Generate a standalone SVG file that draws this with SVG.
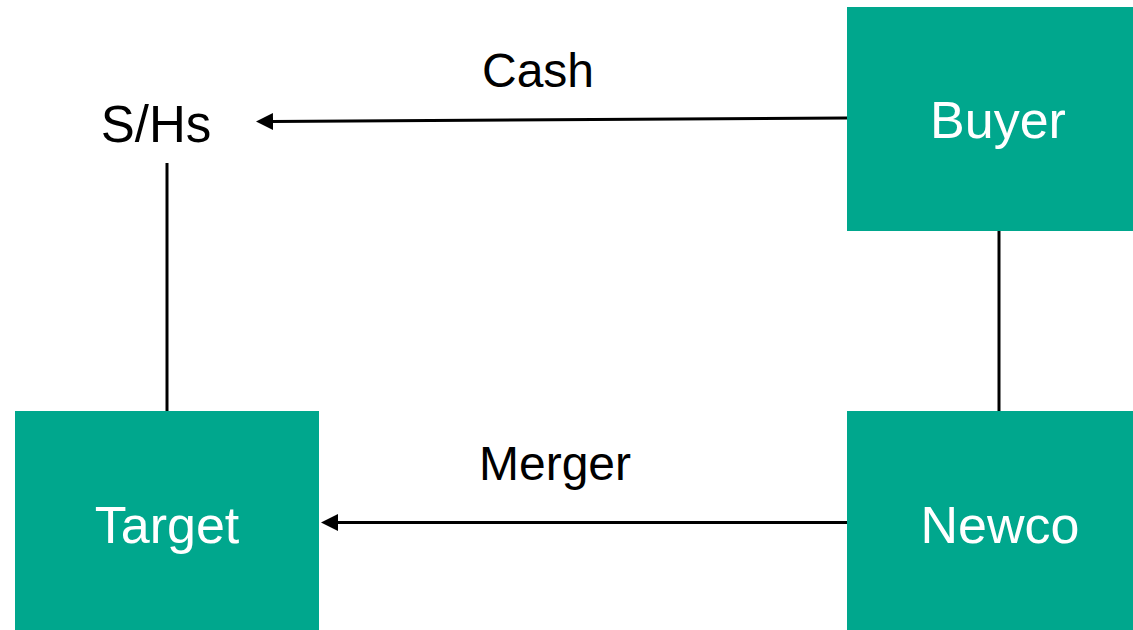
<svg xmlns="http://www.w3.org/2000/svg" width="1133" height="630" viewBox="0 0 1133 630">
  <style>
    .box { fill: #00A78D; }
    .boxlabel { font-family: "Liberation Sans", Arial, sans-serif; font-size: 52px; fill: #ffffff; text-anchor: middle; }
    .label { font-family: "Liberation Sans", Arial, sans-serif; font-size: 48px; fill: #000000; text-anchor: middle; }
    .conn { stroke: #000000; stroke-width: 3; fill: none; }
  </style>
  <defs>
    <marker id="arrow" viewBox="0 0 17 17" refX="1" refY="8.5" markerWidth="17" markerHeight="17" markerUnits="userSpaceOnUse" orient="auto-start-reverse">
      <path d="M0,0 L17,8.5 L0,17 z" fill="#000000"/>
    </marker>
  </defs>
  <rect width="1133" height="630" fill="#ffffff"/>

  <g id="connectors">
    <line class="conn" x1="847" y1="118" x2="272" y2="121.5" marker-end="url(#arrow)"/>
    <line class="conn" x1="847" y1="522.5" x2="337" y2="522.5" marker-end="url(#arrow)"/>
    <line class="conn" x1="167" y1="163" x2="167" y2="411"/>
    <line class="conn" x1="999" y1="231" x2="999" y2="411"/>
  </g>

  <g id="shareholders">
    <text class="label" x="156" y="142" style="font-size:51px">S/Hs</text>
  </g>
  <g id="buyer">
    <rect class="box" x="847" y="7" width="286" height="224"/>
    <text class="boxlabel" x="998" y="138">Buyer</text>
  </g>
  <g id="target">
    <rect class="box" x="15" y="411" width="304" height="219"/>
    <text class="boxlabel" x="167" y="543">Target</text>
  </g>
  <g id="newco">
    <rect class="box" x="847" y="411" width="286" height="219"/>
    <text class="boxlabel" x="1000" y="543">Newco</text>
  </g>

  <g id="connector-labels">
    <text class="label" x="538" y="87">Cash</text>
    <text class="label" x="555" y="480">Merger</text>
  </g>
</svg>
